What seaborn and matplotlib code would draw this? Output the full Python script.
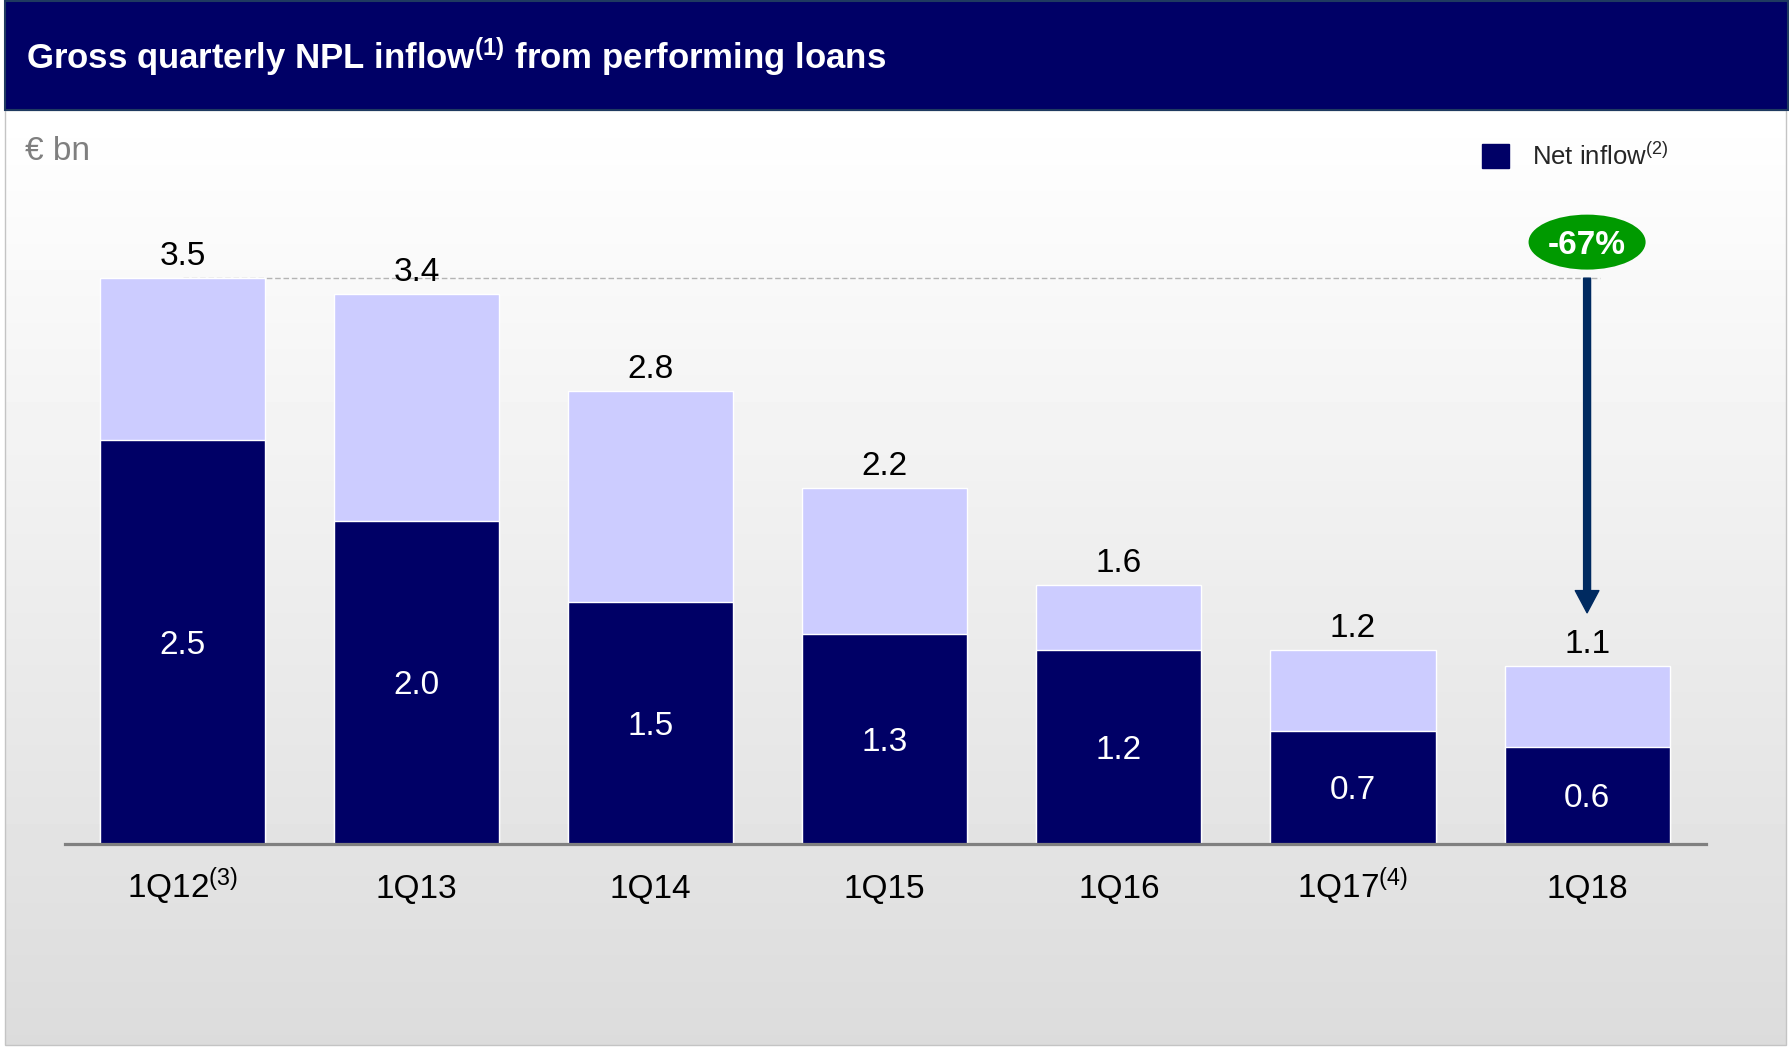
import matplotlib
matplotlib.use("Agg")
import matplotlib.pyplot as plt
from matplotlib.patches import Ellipse, Rectangle, Patch
import numpy as np
import pandas as pd
import seaborn as sns

# Quarterly NPL inflow from performing loans, EUR bn
quarters = ["1Q12", "1Q13", "1Q14", "1Q15", "1Q16", "1Q17", "1Q18"]
quarter_notes = ["(3)", "", "", "", "", "(4)", ""]
gross_inflow = [3.5, 3.4, 2.8, 2.2, 1.6, 1.2, 1.1]
net_inflow = [2.5, 2.0, 1.5, 1.3, 1.2, 0.7, 0.6]
change_label = "-67%"

NAVY = "#000066"
LAVENDER = "#ccccff"

sns.set_style("white")
plt.rcParams["font.family"] = ["Liberation Sans", "DejaVu Sans"]
plt.rcParams["mathtext.fontset"] = "custom"
plt.rcParams["mathtext.rm"] = "Liberation Sans"
plt.rcParams["mathtext.it"] = "Liberation Sans:italic"
plt.rcParams["mathtext.bf"] = "Liberation Sans:bold"

W, H = 1789, 1048
fig = plt.figure(figsize=(W / 100, H / 100), dpi=100)
fig.patch.set_facecolor("white")

# ---- background layer in pixel coordinates ----
bg = fig.add_axes([0, 0, 1, 1], zorder=0)
grad = np.linspace(1.0, 0.862, 256)[:, None]
bg.imshow(grad, cmap="gray", vmin=0, vmax=1, extent=(5, 1786, 1045, 110),
          aspect="auto", interpolation="bicubic")
bg.add_patch(Rectangle((5, 110), 1781, 935, fill=False, edgecolor="#c4c4c4", lw=1))
bg.add_patch(Rectangle((5, 1), 1783, 109, facecolor=NAVY, edgecolor="#1f3a60", lw=1.5))
bg.text(26, 69, "Gross quarterly NPL inflow$^{\\mathbf{(1)}}$ from performing loans",
        color="white", fontsize=25, fontweight="bold", va="baseline", ha="left")
bg.text(25, 160, "€ bn", color="#7f7f7f", fontsize=24, va="baseline", ha="left")
bg.set_xlim(0, W)
bg.set_ylim(H, 0)
bg.axis("off")

# ---- chart ----
ax = fig.add_axes([65 / W, 1 - 844 / H, (1706 - 65) / W, (844 - 165) / H], zorder=1)
ax.patch.set_alpha(0)

df = pd.DataFrame({"quarter": quarters, "gross": gross_inflow, "net": net_inflow})
sns.barplot(data=df, x="quarter", y="gross", color=LAVENDER, saturation=1,
            width=0.705, edgecolor="white", linewidth=1, errorbar=None, ax=ax)
sns.barplot(data=df, x="quarter", y="net", color=NAVY, saturation=1,
            width=0.705, edgecolor="white", linewidth=1, errorbar=None, ax=ax)

ax.set_xlim(-0.502, 6.508)
ax.set_ylim(0, 4.2)
ax.set_xticks([])
ax.set_yticks([])
ax.set_xlabel("")
ax.set_ylabel("")
for side in ["top", "left", "right"]:
    ax.spines[side].set_visible(False)
ax.spines["bottom"].set_color("#808080")
ax.spines["bottom"].set_linewidth(2.3)

for i, (g, n, q, note) in enumerate(zip(gross_inflow, net_inflow, quarters, quarter_notes)):
    ax.annotate(f"{g:.1f}", (i, g), xytext=(0, 9.4), textcoords="offset points",
                ha="center", va="baseline", fontsize=24, color="black")
    ax.annotate(f"{n:.1f}", (i, n / 2), xytext=(0, -8.6), textcoords="offset points",
                ha="center", va="baseline", fontsize=24, color="white")
    label = q + (f"$^{{\\mathrm{{{note}}}}}$" if note else "")
    ax.annotate(label, (i, 0), xytext=(0, -38.9), textcoords="offset points",
                ha="center", va="baseline", fontsize=24, color="black",
                annotation_clip=False)

# reference line at the 1Q12 level and the decline arrow to 1Q18
last = len(quarters) - 1
ax.hlines(gross_inflow[0], 0, last + 0.055, colors="#b4b4b4",
          linestyles=(0, (4, 2)), lw=1, zorder=0.5)
ax.annotate("", xy=(last, 1.43), xytext=(last, gross_inflow[0]),
            arrowprops=dict(width=5, headwidth=17, headlength=16,
                            color="#002a60", shrink=0), zorder=4)
ax.add_patch(Ellipse((last, 3.723), 0.5, 0.34, facecolor="#009a00",
                     edgecolor="none", clip_on=False, zorder=5))
ax.annotate(change_label, (last, 3.723), xytext=(0, -8.6), textcoords="offset points",
            ha="center", va="baseline", fontsize=24, fontweight="bold",
            color="white", annotation_clip=False, zorder=6)

fig.legend(handles=[Patch(facecolor=NAVY, edgecolor=NAVY)],
           labels=["Net inflow$^{\\mathrm{(2)}}$"],
           loc="center left", bbox_to_anchor=(1482 / W, 1 - 156 / H),
           frameon=False, fontsize=18.5, handlelength=1.05, handleheight=1.05,
           handletextpad=0.9, borderpad=0, borderaxespad=0)

fig.savefig("out.png", dpi=100)
